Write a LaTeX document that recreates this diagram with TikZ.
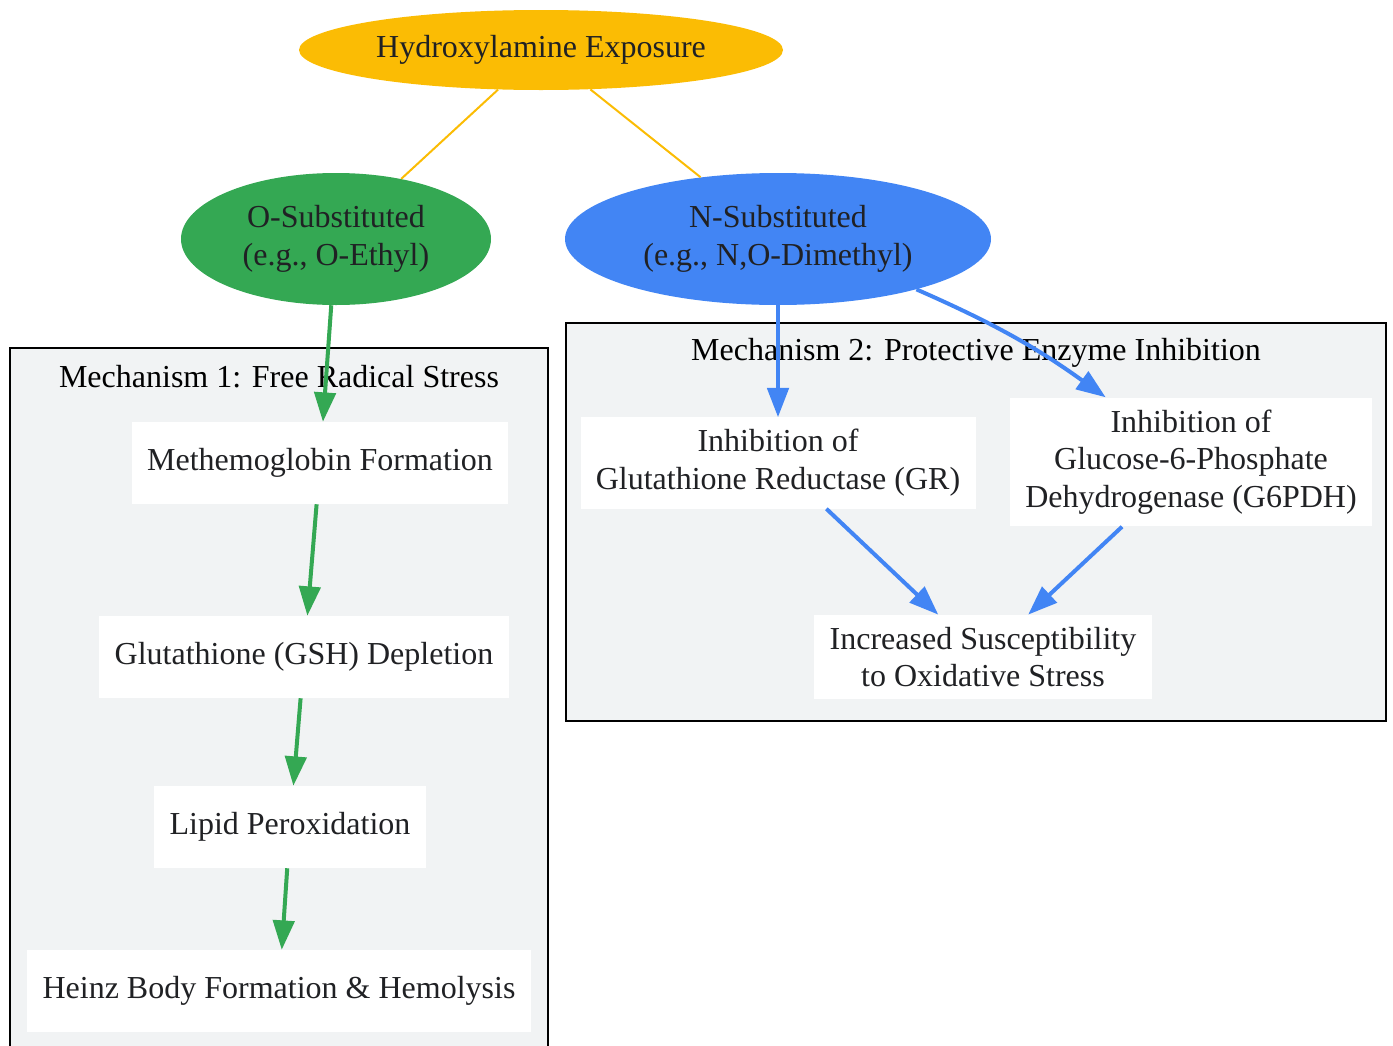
\documentclass[tikz,border=0pt]{standalone}
\usepackage{fontspec}
\setmainfont{Liberation Serif}
\usepackage{tikz}
\usetikzlibrary{shapes, arrows.meta, positioning}
\definecolor{expoyellow}{HTML}{FBBC04}
\definecolor{osubgreen}{HTML}{34A853}
\definecolor{nsubblue}{HTML}{4285F4}
\definecolor{clustergray}{HTML}{F1F3F4}
\definecolor{inktext}{HTML}{202124}

\begin{document}
\begin{tikzpicture}[
  x=0.75pt, y=-0.75pt,
  font=\fontsize{24}{28.3}\selectfont,
  oval/.style={ellipse, inner sep=0pt, text=inktext, align=center},
  stepbox/.style={rectangle, fill=white, text=inktext, inner xsep=11.5pt, inner ysep=9pt, minimum height=61.5pt, align=center},
  cluster/.style={draw=black, line width=1.4pt, fill=clustergray},
  clabel/.style={text=black},
  feed/.style={draw=expoyellow, line width=1.5pt},
  greenarrow/.style={draw=osubgreen, line width=3pt, -{Triangle[length=22pt, width=16pt]}},
  bluearrow/.style={draw=nsubblue, line width=3pt, -{Triangle[length=22pt, width=16pt]}}
]
  \clip (0,0) rectangle (1393,1046);

  % clusters
  \draw[cluster] (10,348) rectangle (548,1060);
  \node[clabel] (lab1) at (279,377) {Mechanism 1: Free Radical Stress};
  \draw[cluster] (566,323) rectangle (1386,721);
  \node[clabel] (lab2) at (976,353) {Mechanism 2: Protective Enzyme Inhibition};

  % top nodes
  \node[oval, fill=expoyellow, minimum width=363pt, minimum height=60pt] (expo) at (541,50) {Hydroxylamine Exposure};
  \node[oval, fill=osubgreen, minimum width=232.5pt, minimum height=99pt] (osub) at (336,239) {O-Substituted\\(e.g., O-Ethyl)};
  \node[oval, fill=nsubblue, minimum width=319.5pt, minimum height=99pt] (nsub) at (778,239) {N-Substituted\\(e.g., N,O-Dimethyl)};

  % mechanism 1
  \node[stepbox] (meth) at (320,463) {Methemoglobin Formation};
  \node[stepbox] (gsh) at (304,657) {Glutathione (GSH) Depletion};
  \node[stepbox] (lipid) at (290,827) {Lipid Peroxidation};
  \node[stepbox] (heinz) at (279,991) {Heinz Body Formation \& Hemolysis};

  % mechanism 2
  \node[stepbox] (gr) at (778,463) {Inhibition of\\Glutathione Reductase (GR)};
  \node[stepbox] (g6pdh) at (1191,462) {Inhibition of\\Glucose-6-Phosphate\\Dehydrogenase (G6PDH)};
  \node[stepbox] (incr) at (983,657) {Increased Susceptibility\\to Oxidative Stress};

  % connectors
  \draw[feed] (expo) -- (osub);
  \draw[feed] (expo) -- (nsub);
  \draw[greenarrow] (osub) -- (meth);
  \draw[greenarrow] (meth) -- (gsh);
  \draw[greenarrow] (gsh) -- (lipid);
  \draw[greenarrow] (lipid) -- (heinz);
  \draw[bluearrow] (nsub) -- (gr);
  \draw[bluearrow] (nsub.-20) to[bend left=6] ([xshift=-64pt]g6pdh.north);
  \draw[bluearrow] (gr) -- (incr);
  \draw[bluearrow] (g6pdh) -- (incr);
\end{tikzpicture}
\end{document}
